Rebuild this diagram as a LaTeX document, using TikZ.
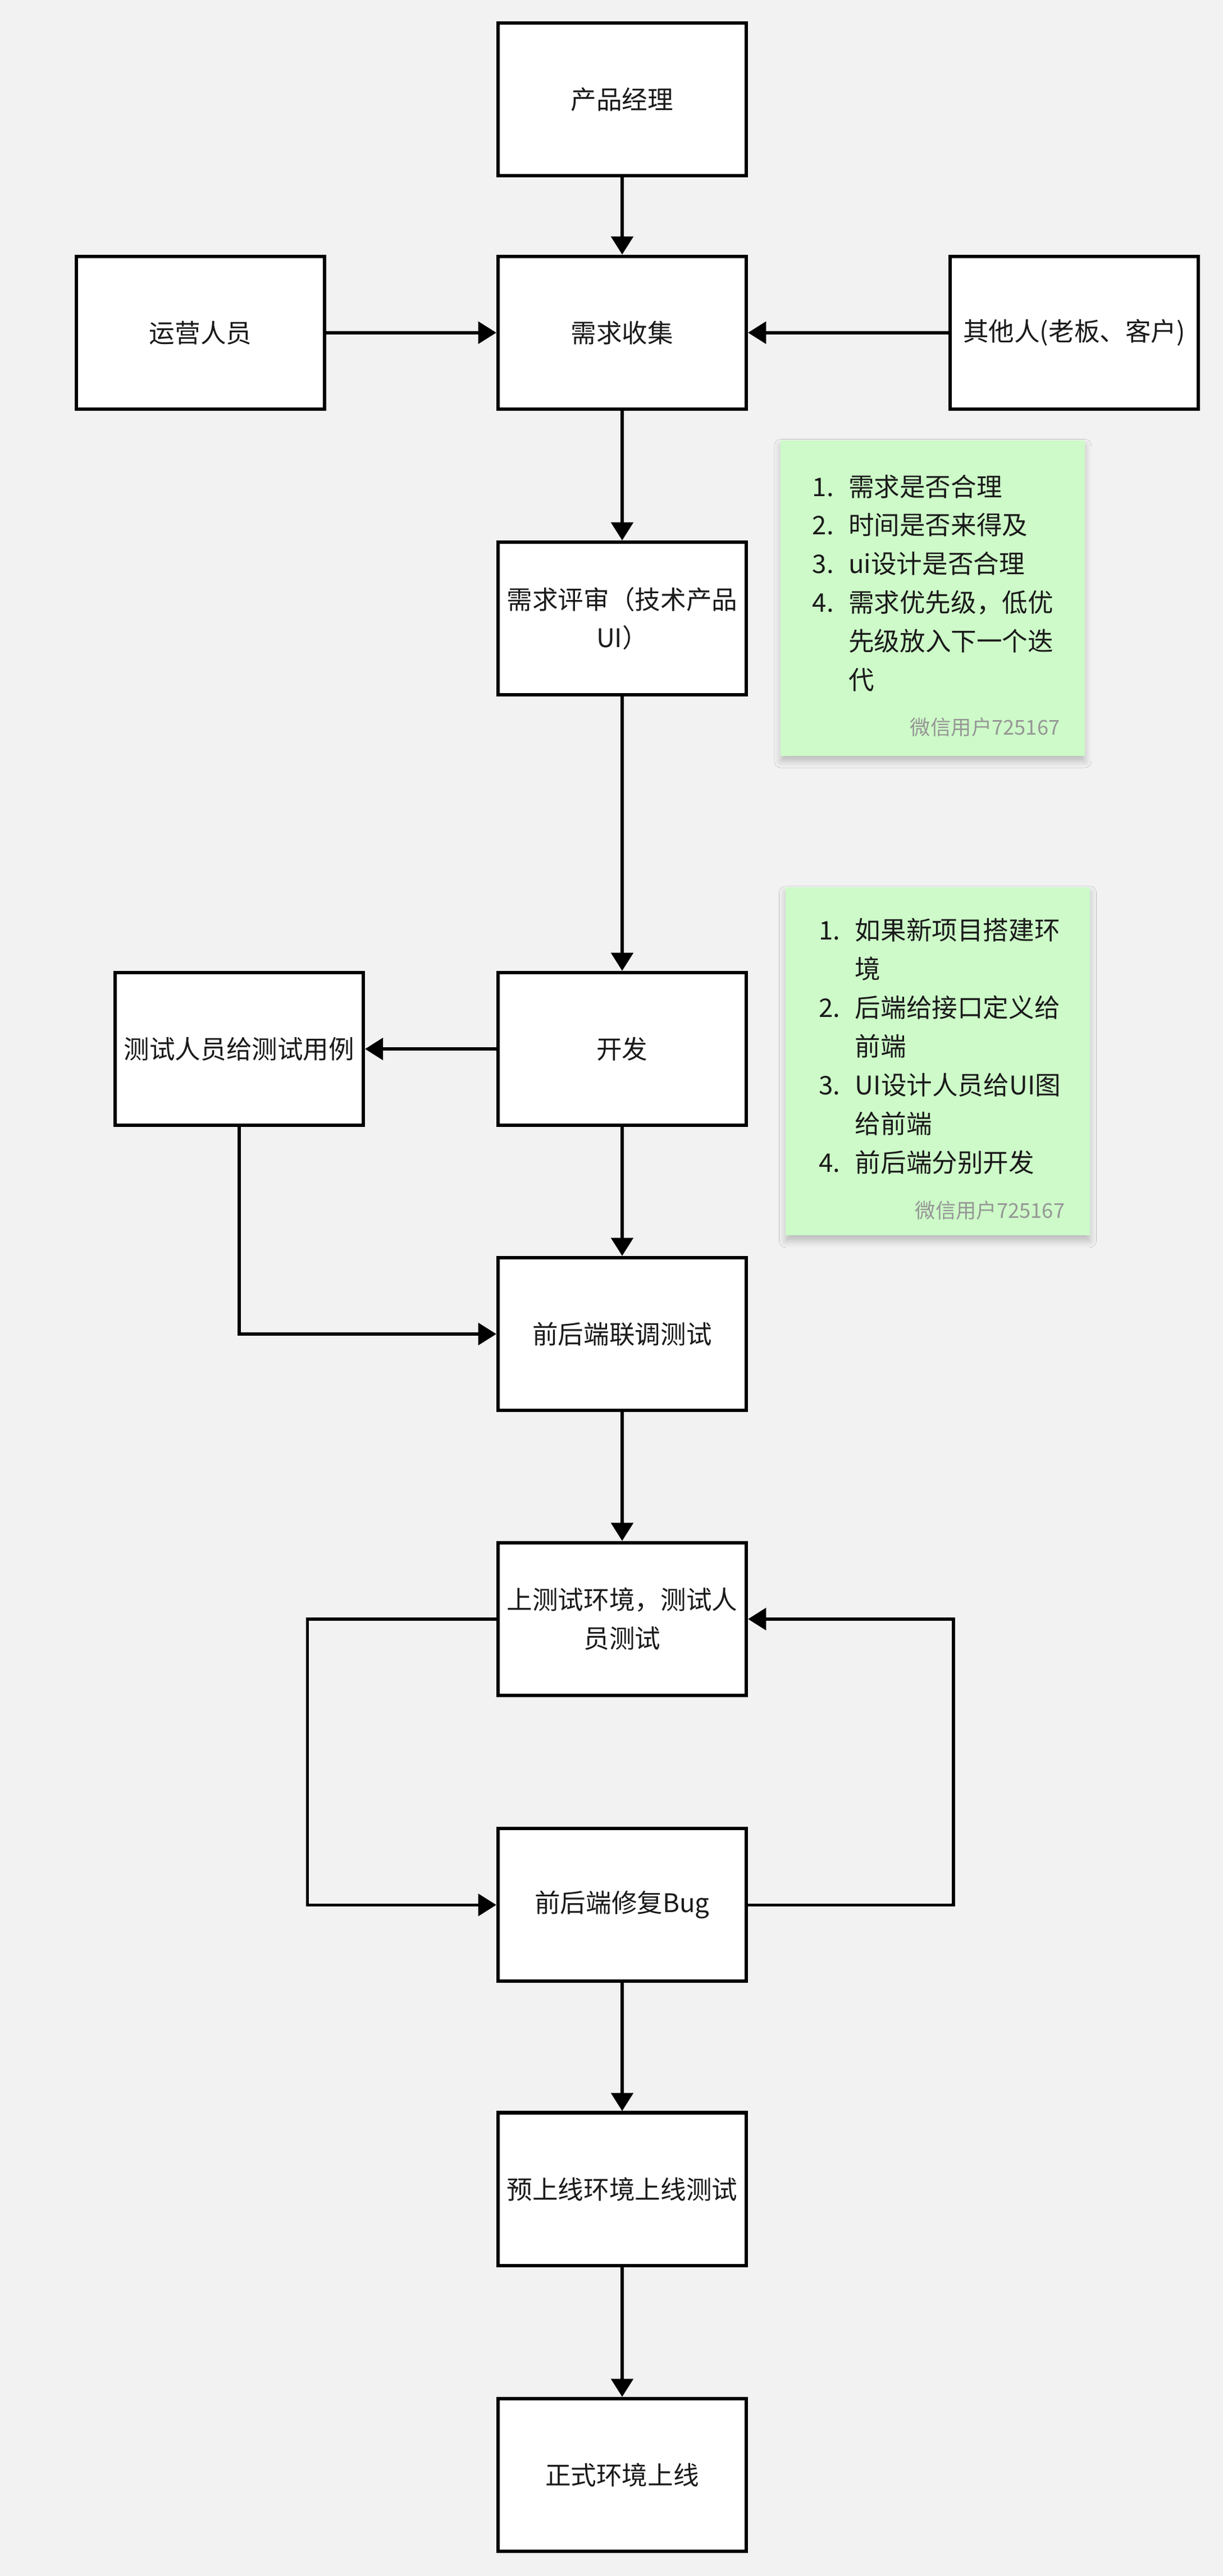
\documentclass[tikz,border=0pt]{standalone}
\usepackage{fontspec}
\setmainfont{Noto Sans CJK SC}
\usetikzlibrary{arrows.meta,shadows.blur}
\definecolor{bg}{RGB}{242,242,242}
\definecolor{notegreen}{RGB}{205,250,200}
\definecolor{txt}{RGB}{26,26,26}
\definecolor{sig}{RGB}{150,150,150}
\begin{document}
\begin{tikzpicture}[x=0.03cm,y=-0.03cm,
  box/.style={draw=black, fill=white, line width=1.8pt, minimum width=4.53cm,
    minimum height=2.79cm, inner sep=0pt, text=txt, align=center,
    font=\fontsize{13.3}{20}\selectfont},
  conn/.style={draw=black, line width=1.6pt, -{Triangle[length=0.33cm,width=0.40cm]}},
  note/.style={fill=notegreen, inner sep=0pt, minimum width=5.55cm,
    blur shadow={shadow xshift=0pt, shadow yshift=-0.1cm, shadow opacity=22, shadow blur radius=0.12cm, shadow blur extra rounding=0pt}},
  notetext/.style={anchor=base west, inner sep=0pt, text=txt, font=\fontsize{13.3}{20.1}\selectfont},
  sigtext/.style={anchor=base east, inner sep=0pt, text=sig, font=\fontsize{10.6}{12}\selectfont}
]
\fill[bg] (0,0) rectangle (744,1568);
\useasboundingbox (0,0) rectangle (744,1568);

% notes
\node[note, minimum height=5.76cm] (n1) at (567.5,364) {};
\node[notetext] (n1t) at (494,302) {\begin{tabular}[t]{@{}p{0.66cm}@{}l@{}}
1. & 需求是否合理\\
2. & 时间是否来得及\\
3. & ui设计是否合理\\
4. & 需求优先级，低优\\
   & 先级放入下一个迭\\
   & 代
\end{tabular}};
\node[sigtext] (n1s) at (645,447.5) {微信用户725167};

\node[note, minimum height=6.36cm] (n2) at (570.5,646) {};
\node[notetext] (n2t) at (498,572) {\begin{tabular}[t]{@{}p{0.66cm}@{}l@{}}
1. & 如果新项目搭建环\\
   & 境\\
2. & 后端给接口定义给\\
   & 前端\\
3. & UI设计人员给UI图\\
   & 给前端\\
4. & 前后端分别开发
\end{tabular}};
\node[sigtext] (n2s) at (648,741.5) {微信用户725167};

% boxes
\node[box] (pm) at (378.5,60.5) {产品经理};
\node[box] (yy) at (122,202.5) {运营人员};
\node[box] (xq) at (378.5,202.5) {需求收集};
\node[box] (qt) at (653.5,202.5) {其他人(老板、客户)};
\node[box] (ps) at (378.5,376.5) {需求评审（技术产品\\UI）};
\node[box] (kf) at (378.5,638.5) {开发};
\node[box] (cs) at (145.5,638.5) {测试人员给测试用例};
\node[box] (lt) at (378.5,812) {前后端联调测试};
\node[box] (sc) at (378.5,985.5) {上测试环境，测试人\\员测试};
\node[box] (fx) at (378.5,1159.5) {前后端修复Bug};
\node[box] (yx) at (378.5,1332.5) {预上线环境上线测试};
\node[box] (zs) at (378.5,1506.5) {正式环境上线};

\coordinate (lx) at (187,986);
\coordinate (rx) at (580,986);

% connectors
\draw[conn] (pm) -- (xq);
\draw[conn] (yy) -- (xq);
\draw[conn] (qt) -- (xq);
\draw[conn] (xq) -- (ps);
\draw[conn] (ps) -- (kf);
\draw[conn] (kf) -- (cs);
\draw[conn] (kf) -- (lt);
\draw[conn] (cs.south) |- (lt.west);
\draw[conn] (lt) -- (sc);
\draw[conn] (sc.west) -- (sc.west -| lx) |- (fx.west);
\draw[conn] (fx.east) -- (fx.east -| rx) |- (sc.east);
\draw[conn] (fx) -- (yx);
\draw[conn] (yx) -- (zs);
\end{tikzpicture}
\end{document}
